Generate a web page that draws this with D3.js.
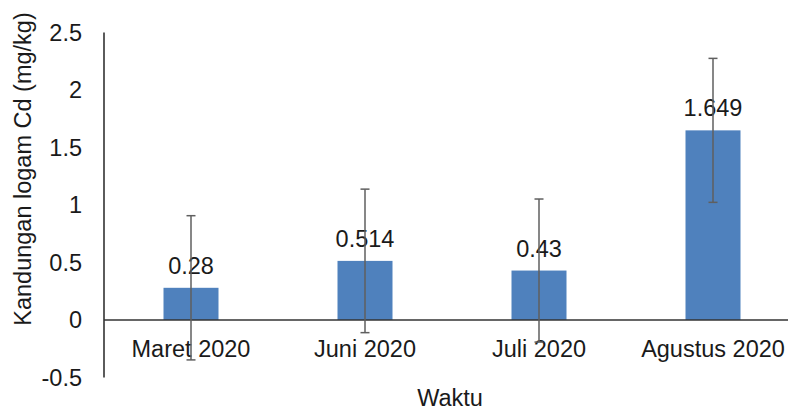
<!DOCTYPE html>
<html>
<head>
<meta charset="utf-8">
<script src="https://cdn.jsdelivr.net/npm/d3@7"></script>
<style>
  html, body { margin: 0; padding: 0; background: #fff; }
  svg { display: block; font-family: "Liberation Sans", Arial, Helvetica, sans-serif; }
</style>
</head>
<body>
<svg id="chart" width="788" height="412"></svg>
<script>
const categories = ["Maret 2020", "Juni 2020", "Juli 2020", "Agustus 2020"];
const values = [0.28, 0.514, 0.43, 1.649];
const valueLabels = ["0.28", "0.514", "0.43", "1.649"];
const errors = [0.627, 0.624, 0.622, 0.626];
const yTicks = [-0.5, 0, 0.5, 1, 1.5, 2, 2.5];
const yTickLabels = ["-0.5", "0", "0.5", "1", "1.5", "2", "2.5"];
const yTitle = "Kandungan logam Cd (mg/kg)";
const xTitle = "Waktu";

const svg = d3.select("#chart");
const W = 788, H = 412;
const left = 104;
const y = d3.scaleLinear().domain([-0.5, 2.5]).range([377.5, 32.5]);
const x = d3.scaleBand().domain(categories).range([left, 800]).padding(0);
const barW = 55;
const fs = 23.5;

// y tick labels
svg.append("g").selectAll("text").data(yTicks).join("text")
  .attr("x", 82).attr("y", d => y(d))
  .attr("text-anchor", "end").attr("dominant-baseline", "central")
  .attr("font-size", fs).attr("fill", "#1a1a1a")
  .text((d, i) => yTickLabels[i]);

// bars
svg.append("g").selectAll("rect").data(values).join("rect")
  .attr("x", (d, i) => x(categories[i]) + x.bandwidth() / 2 - barW / 2)
  .attr("width", barW)
  .attr("y", d => y(Math.max(0, d)))
  .attr("height", d => Math.abs(y(d) - y(0)))
  .attr("fill", "#4f81bd");

// y axis line
svg.append("line").attr("x1", left).attr("x2", left)
  .attr("y1", y(2.5)).attr("y2", y(-0.5))
  .attr("stroke", "#333").attr("stroke-width", 1.6);

// zero line
svg.append("line").attr("x1", left).attr("x2", W)
  .attr("y1", y(0)).attr("y2", y(0))
  .attr("stroke", "#333").attr("stroke-width", 1.6);

// x labels
svg.append("g").selectAll("text").data(categories).join("text")
  .attr("x", d => x(d) + x.bandwidth() / 2).attr("y", 357)
  .attr("text-anchor", "middle")
  .attr("font-size", fs).attr("fill", "#1a1a1a")
  .text(d => d);

// value labels
svg.append("g").selectAll("text").data(values).join("text")
  .attr("x", (d, i) => x(categories[i]) + x.bandwidth() / 2)
  .attr("y", d => y(d) - 14)
  .attr("text-anchor", "middle")
  .attr("font-size", fs).attr("fill", "#1a1a1a")
  .text((d, i) => valueLabels[i]);

// error bars
const eg = svg.append("g").attr("stroke", "#5f5f5f").attr("stroke-width", 1.5);
values.forEach((v, i) => {
  const cx = x(categories[i]) + x.bandwidth() / 2;
  const top = y(v + errors[i]), bot = y(v - errors[i]);
  eg.append("line").attr("x1", cx).attr("x2", cx).attr("y1", top).attr("y2", bot);
  eg.append("line").attr("x1", cx - 4.5).attr("x2", cx + 4.5).attr("y1", top).attr("y2", top);
  eg.append("line").attr("x1", cx - 4.5).attr("x2", cx + 4.5).attr("y1", bot).attr("y2", bot);
});

// axis titles
svg.append("text")
  .attr("transform", "translate(31,169) rotate(-90)")
  .attr("text-anchor", "middle")
  .attr("font-size", fs).attr("fill", "#1a1a1a")
  .text(yTitle);

svg.append("text")
  .attr("x", 450).attr("y", 406)
  .attr("text-anchor", "middle")
  .attr("font-size", fs).attr("fill", "#1a1a1a")
  .text(xTitle);
</script>
</body>
</html>
